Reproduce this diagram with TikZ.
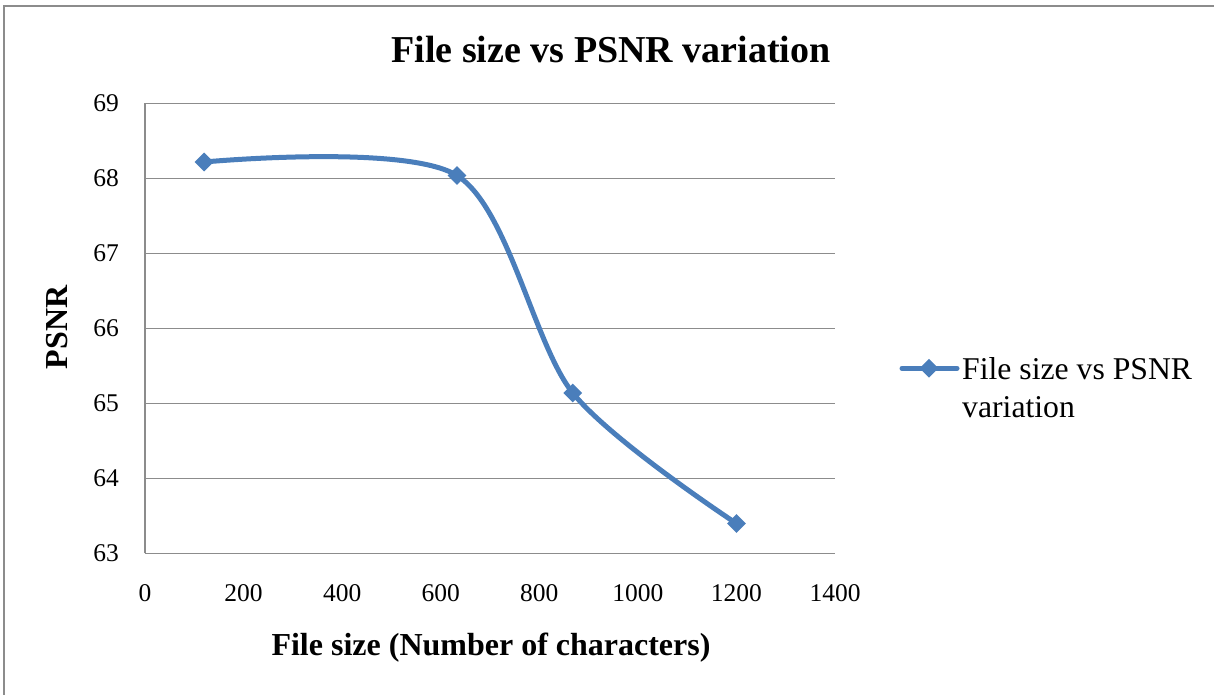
\documentclass[tikz,border=0pt]{standalone}
\usepackage{fontspec}
\setmainfont{Liberation Serif}
\usetikzlibrary{shapes.geometric}
\definecolor{serieblue}{HTML}{4A7EBB}
\definecolor{gridgray}{HTML}{8C8C8C}
\tikzset{grid/.style={gridgray, line width=1.4pt},
         series/.style={serieblue, line width=5pt, line join=round, line cap=round},
         marker/.style={diamond, fill=serieblue, inner sep=0pt, minimum width=19pt, minimum height=19pt},
         ticklabel/.style={font=\fontsize{25.5}{30}\selectfont, inner sep=0pt}}

\begin{document}
\begin{tikzpicture}[x=1pt,y=1pt]
    \useasboundingbox (0,0) rectangle (1214,695);
    % outer frame
    \draw[gridgray, line width=2.5pt] (3.8,-5) -- (3.8,689.2) -- (1220,689.2);
    \node (title) at (611,645) {\fontsize{38}{46}\selectfont\bfseries File size vs PSNR variation};
    \node[rotate=90] (ylab) at (57,367.5) {\fontsize{32}{38}\selectfont\bfseries PSNR};
    \node (xlab) at (491,47) {\fontsize{32}{38}\selectfont\bfseries File size (Number of characters)};
    \begin{scope}[shift={(145,141.5)}, x=0.49286pt, y=75pt]
        \foreach \v in {0,...,6}{
            \draw[grid] (0,\v) -- (1400,\v);
            \node[ticklabel, anchor=east] (yt\v) at ([xshift=-26pt]0,\v) {\the\numexpr63+\v\relax};
        }
        \draw[grid] (0,0) -- (0,6);
        \foreach \x in {0,200,...,1400}
            \node[ticklabel] (xt\x) at ([yshift=-40pt]\x,0) {\x};
        % data points
        \coordinate (d1) at (120,5.22);
        \coordinate (d2) at (633,5.04);
        \coordinate (d3) at (868,2.14);
        \coordinate (d4) at (1200,0.40);
        \draw[series] plot[smooth, tension=0.5] coordinates {(d1) (d2) (d3) (d4)};
        \foreach \p in {1,...,4}
            \node[marker] (m\p) at (d\p) {};
    \end{scope}
    % legend
    \coordinate (la) at (902,326.7);
    \coordinate (lb) at (957,326.7);
    \draw[series] (la) -- (lb);
    \node[marker] (lm) at (929,326.7) {};
    \node[anchor=base west, align=left, inner sep=0pt, font=\fontsize{31.7}{38}\selectfont] (legtext) at (962,277) {File size vs PSNR\\variation};
\end{tikzpicture}
\end{document}
